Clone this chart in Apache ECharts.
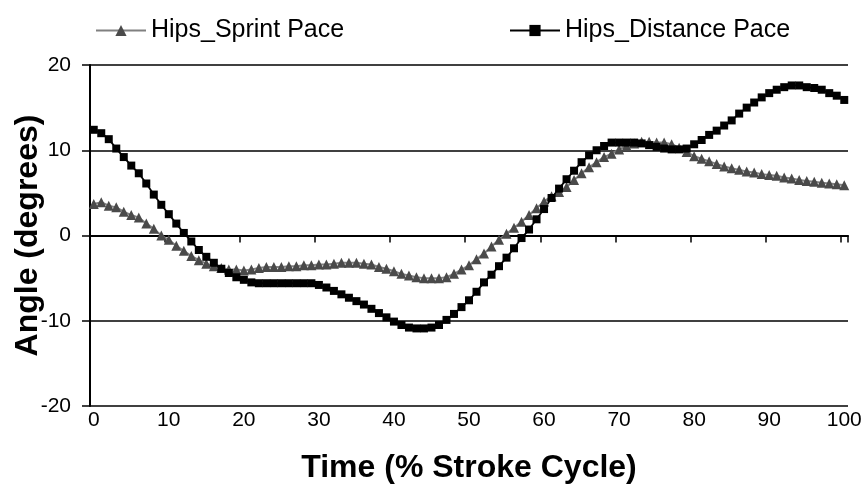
<!DOCTYPE html>
<html>
<head>
<meta charset="utf-8">
<script src="https://cdn.jsdelivr.net/npm/echarts@6/dist/echarts.min.js"></script>
<style>
  html, body { margin: 0; padding: 0; background: #fff; }
  #chart { width: 867px; height: 486px; }
</style>
</head>
<body>
<div id="chart"></div>
<script>
// time axis: % of stroke cycle, one sample per percent
var strokePct = [];
for (var p = 0; p <= 100; p++) strokePct.push(String(p));

// hip angle (degrees)
var sprintPace = [
  3.7, 3.9, 3.5, 3.3, 2.8, 2.4, 2.1, 1.4, 0.8, 0.0,
  -0.5, -1.2, -1.8, -2.4, -2.9, -3.3, -3.6, -3.8, -4.0, -4.0,
  -4.1, -4.0, -3.8, -3.7, -3.7, -3.7, -3.6, -3.6, -3.5, -3.5,
  -3.4, -3.4, -3.3, -3.2, -3.2, -3.2, -3.3, -3.4, -3.7, -3.9,
  -4.2, -4.5, -4.7, -4.9, -5.0, -5.0, -5.0, -4.9, -4.5, -4.0,
  -3.5, -2.8, -2.1, -1.3, -0.5, 0.2, 0.9, 1.6, 2.4, 3.2,
  4.0, 4.6, 5.1, 5.7, 6.5, 7.3, 8.0, 8.6, 9.2, 9.6,
  10.1, 10.5, 10.8, 11.0, 11.0, 10.9, 10.9, 10.7, 10.3, 9.8,
  9.3, 9.0, 8.7, 8.4, 8.1, 7.9, 7.7, 7.5, 7.4, 7.2,
  7.1, 7.0, 6.8, 6.7, 6.5, 6.4, 6.3, 6.2, 6.1, 6.0,
  5.9
];
var distancePace = [
  12.4, 12.0, 11.3, 10.2, 9.2, 8.2, 7.3, 6.1, 4.8, 3.6,
  2.5, 1.4, 0.3, -0.7, -1.7, -2.5, -3.2, -3.9, -4.4, -4.9,
  -5.2, -5.5, -5.6, -5.6, -5.6, -5.6, -5.6, -5.6, -5.6, -5.6,
  -5.8, -6.1, -6.5, -6.9, -7.3, -7.7, -8.1, -8.6, -9.1, -9.6,
  -10.1, -10.5, -10.8, -10.9, -10.9, -10.8, -10.5, -9.9, -9.2, -8.4,
  -7.6, -6.6, -5.5, -4.6, -3.6, -2.6, -1.5, -0.3, 0.7, 1.9,
  3.1, 4.4, 5.5, 6.6, 7.6, 8.6, 9.4, 10.0, 10.5, 10.9,
  10.9, 10.9, 10.9, 10.8, 10.6, 10.4, 10.2, 10.1, 10.1, 10.2,
  10.7, 11.2, 11.8, 12.3, 12.9, 13.5, 14.3, 15.0, 15.6, 16.2,
  16.7, 17.1, 17.4, 17.6, 17.6, 17.4, 17.3, 17.1, 16.7, 16.4,
  15.9
];
var angleTicks = { min: -20, max: 20, step: 10 };

var font = "'Liberation Sans', Arial, sans-serif";
function everyTenth(i) { return i % 10 === 0; }

var legendText = { fontSize: 25, color: "#000", fontFamily: font };

var myChart = echarts.init(document.getElementById("chart"));
myChart.setOption({
  animation: false,
  textStyle: { fontFamily: font },
  legend: [
    {
      data: ["Hips_Sprint Pace"],
      left: 90,
      top: 13,
      itemWidth: 50,
      itemHeight: 14,
      textStyle: legendText
    },
    {
      data: ["Hips_Distance Pace"],
      left: 504,
      top: 13,
      itemWidth: 50,
      itemHeight: 14,
      textStyle: legendText
    }
  ],
  grid: { left: 90, right: 19, top: 65, bottom: 80, containLabel: false, outerBoundsMode: "none" },
  xAxis: [
    {
      // axis line and ticks sitting on the zero line
      type: "category",
      data: strokePct,
      boundaryGap: true,
      axisLine: { onZero: true, lineStyle: { color: "#000", width: 2 } },
      axisTick: { show: true, interval: everyTenth, length: 7, lineStyle: { color: "#000", width: 1.5 } },
      axisLabel: { show: false },
      splitLine: { show: false }
    },
    {
      // labels and title along the bottom
      type: "category",
      data: strokePct,
      position: "bottom",
      boundaryGap: true,
      axisLine: { show: false, onZero: false },
      axisTick: { show: false },
      axisLabel: {
        interval: everyTenth,
        margin: 4,
        fontSize: 21,
        color: "#000",
        fontFamily: font
      },
      splitLine: { show: false },
      name: "Time (% Stroke Cycle)",
      nameLocation: "middle",
      nameGap: 46,
      nameMoveOverlap: false,
      nameTextStyle: { fontSize: 32, fontWeight: "bold", color: "#000", fontFamily: font }
    }
  ],
  yAxis: {
    type: "value",
    min: angleTicks.min,
    max: angleTicks.max,
    interval: angleTicks.step,
    axisLine: { show: true, lineStyle: { color: "#000", width: 2 } },
    axisTick: { show: true, length: 8, lineStyle: { color: "#000", width: 1.5 } },
    axisLabel: { margin: 19, fontSize: 21, color: "#000", fontFamily: font },
    splitLine: { show: true, lineStyle: { color: "#000", width: 1.5 } },
    name: "Angle (degrees)",
    nameLocation: "middle",
    nameGap: 46,
    nameMoveOverlap: false,
    nameTextStyle: { fontSize: 32, fontWeight: "bold", color: "#000", fontFamily: font }
  },
  series: [
    {
      name: "Hips_Sprint Pace",
      type: "line",
      data: sprintPace,
      symbol: "triangle",
      symbolSize: 10,
      showAllSymbol: true,
      lineStyle: { color: "#808080", width: 2 },
      itemStyle: { color: "#4a4a4a" }
    },
    {
      name: "Hips_Distance Pace",
      type: "line",
      data: distancePace,
      symbol: "rect",
      symbolSize: 8,
      showAllSymbol: true,
      lineStyle: { color: "#000", width: 1.8 },
      itemStyle: { color: "#000" }
    }
  ]
});
</script>
</body>
</html>
